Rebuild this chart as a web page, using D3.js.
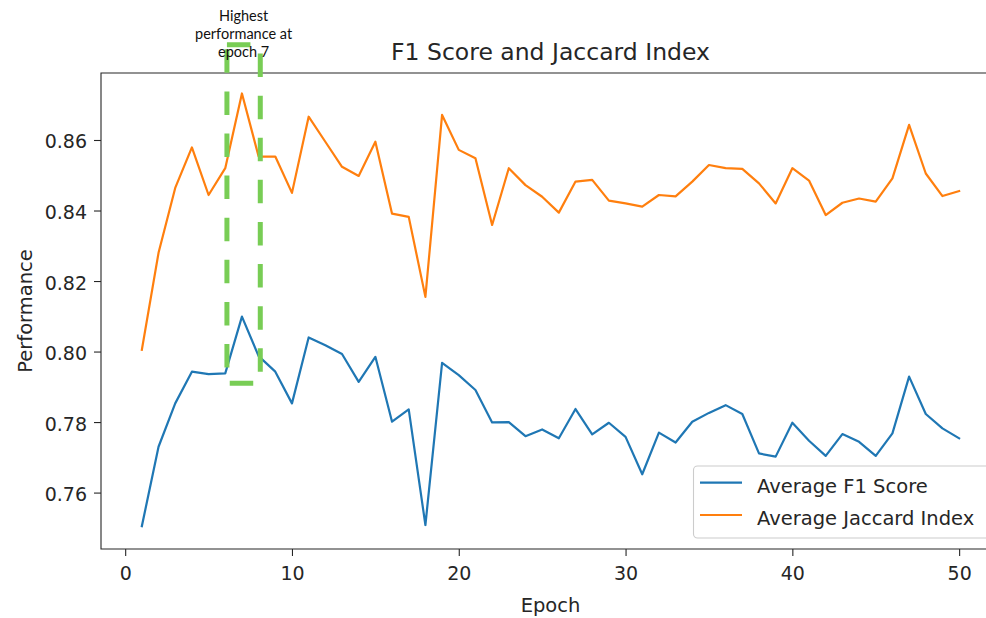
<!DOCTYPE html>
<html>
<head>
<meta charset="utf-8">
<script src="https://cdn.jsdelivr.net/npm/d3@7"></script>
<style>
  html, body { margin: 0; padding: 0; background: #fff; overflow: hidden; }
  svg { display: block; }
</style>
</head>
<body>
<div id="chart"></div>
<script>
// Data
const epochs = d3.range(1, 51);
const f1Scores = [
  0.7505, 0.7730, 0.7853, 0.7943, 0.7936, 0.7938, 0.8099, 0.7987, 0.7943, 0.7853,
  0.8040, 0.8018, 0.7993, 0.7914, 0.7985, 0.7801, 0.7836, 0.7508, 0.7968, 0.7933,
  0.7891, 0.7799, 0.7800, 0.7760, 0.7779, 0.7754, 0.7837, 0.7765, 0.7798, 0.7758,
  0.7652, 0.7770, 0.7742, 0.7801, 0.7826, 0.7848, 0.7823, 0.7711, 0.7702, 0.7798,
  0.7747, 0.7704, 0.7766, 0.7744, 0.7704, 0.7768, 0.7929, 0.7823, 0.7782, 0.7754
];
const jaccardScores = [
  0.8005, 0.8280, 0.8464, 0.8579, 0.8444, 0.8520, 0.8732, 0.8553, 0.8553, 0.8450,
  0.8666, 0.8595, 0.8524, 0.8498, 0.8595, 0.8391, 0.8382, 0.8155, 0.8671, 0.8572,
  0.8548, 0.8359, 0.8520, 0.8472, 0.8439, 0.8394, 0.8482, 0.8487, 0.8428, 0.8420,
  0.8411, 0.8444, 0.8440, 0.8482, 0.8529, 0.8520, 0.8518, 0.8477, 0.8420, 0.8520,
  0.8485, 0.8387, 0.8422, 0.8434, 0.8425, 0.8491, 0.8643, 0.8505, 0.8441, 0.8455
];
const seriesNames = ["Average F1 Score", "Average Jaccard Index"];
const xTicks = [0, 10, 20, 30, 40, 50];
const yTicks = [0.76, 0.78, 0.80, 0.82, 0.84, 0.86];
const annotationLines = ["Highest", "performance at", "epoch 7"];
// Box drawn around the best epoch (epoch range, value range)
const highlightX = [6.1, 8.1];
const highlightY = [0.791, 0.887];

// Constants
const width = 986;
const height = 618;
// Axes box (its right edge sits just past the window, as in the reference)
const margin = {top: 73, left: 101, right: 1000, bottom: 549};
const xDomain = [-1.45, 52.45];
const yDomain = [0.744, 0.879];

const blue = "#1f77b4";
const orange = "#ff7f0e";
const green = "#78cd55";
const ink = "#262626";
const font = "DejaVu Sans, sans-serif";

const x = d3.scaleLinear().domain(xDomain).range([margin.left, margin.right]);
const y = d3.scaleLinear().domain(yDomain).range([margin.bottom, margin.top]);

const svg = d3.select("#chart").append("svg")
    .attr("width", width)
    .attr("height", height)
    .attr("viewBox", [0, 0, width, height])
    .style("font-family", font);

// Lines
const line = d3.line()
    .x((d, i) => x(epochs[i]))
    .y(d => y(d));

svg.append("g")
    .attr("fill", "none")
    .attr("stroke-width", 2.2)
    .attr("stroke-linejoin", "round")
    .attr("stroke-linecap", "square")
    .selectAll("path")
    .data([[f1Scores, blue], [jaccardScores, orange]])
    .join("path")
    .attr("stroke", d => d[1])
    .attr("d", d => line(d[0]));

// Axes
const xAxis = svg.append("g")
    .attr("transform", `translate(0,${margin.bottom})`)
    .call(d3.axisBottom(x).tickValues(xTicks).tickSize(7).tickPadding(6).tickFormat(d3.format("d")));
const yAxis = svg.append("g")
    .attr("transform", `translate(${margin.left},0)`)
    .call(d3.axisLeft(y).tickValues(yTicks).tickSize(7).tickPadding(7).tickFormat(d3.format(".2f")));

[xAxis, yAxis].forEach(axis => {
  axis.select(".domain").remove();
  axis.selectAll(".tick line").attr("stroke", ink).attr("stroke-width", 1.1);
  axis.selectAll(".tick text")
      .attr("fill", ink)
      .style("font-family", font)
      .style("font-size", "19px");
});
yAxis.selectAll(".tick text").attr("dy", "0.42em");
xAxis.selectAll(".tick text").attr("dy", "0.95em");

// Spines: left, top and bottom (the right one falls outside the window)
svg.append("path")
    .attr("d", `M${margin.right},${margin.top}H${margin.left}V${margin.bottom}H${margin.right}`)
    .attr("fill", "none")
    .attr("stroke", ink)
    .attr("stroke-width", 1.1);

// Title and axis labels
svg.append("text")
    .attr("x", (margin.left + margin.right) / 2)
    .attr("y", 60)
    .attr("text-anchor", "middle")
    .attr("fill", ink)
    .style("font-size", "23.5px")
    .text("F1 Score and Jaccard Index");

svg.append("text")
    .attr("x", (margin.left + margin.right) / 2)
    .attr("y", 612)
    .attr("text-anchor", "middle")
    .attr("fill", ink)
    .style("font-size", "19.5px")
    .text("Epoch");

svg.append("text")
    .attr("transform", `translate(31.5,${(margin.top + margin.bottom) / 2}) rotate(-90)`)
    .attr("text-anchor", "middle")
    .attr("fill", ink)
    .style("font-size", "19.5px")
    .text("Performance");

// Legend
const legend = svg.append("g");
legend.append("rect")
    .attr("x", 693.5)
    .attr("y", 466)
    .attr("width", 296)
    .attr("height", 72)
    .attr("rx", 4)
    .attr("fill", "#fff")
    .attr("fill-opacity", 0.8)
    .attr("stroke", "#cccccc")
    .attr("stroke-width", 1.1);

const legendItem = legend.selectAll("g.item")
    .data(seriesNames)
    .join("g")
    .attr("class", "item")
    .attr("transform", (d, i) => `translate(0,${482.7 + i * 32.3})`);
legendItem.append("line")
    .attr("x1", 700)
    .attr("x2", 742)
    .attr("stroke", (d, i) => i === 0 ? blue : orange)
    .attr("stroke-width", 2.2);
legendItem.append("text")
    .attr("x", 757)
    .attr("y", 9.8)
    .attr("fill", ink)
    .style("font-size", "19.5px")
    .text(d => d);

// Highlight box around the best epoch
svg.append("rect")
    .attr("x", x(highlightX[0]))
    .attr("y", y(highlightY[1]))
    .attr("width", x(highlightX[1]) - x(highlightX[0]))
    .attr("height", y(highlightY[0]) - y(highlightY[1]))
    .attr("fill", "none")
    .attr("stroke", green)
    .attr("stroke-width", 5)
    .attr("stroke-dasharray", "23.5,18.6");

// Annotation text
svg.append("text")
    .attr("text-anchor", "middle")
    .attr("fill", "#111")
    .style("font-family", "Lato, sans-serif")
    .style("font-size", "14.5px")
    .selectAll("tspan")
    .data(annotationLines)
    .join("tspan")
    .attr("x", x(7.1))
    .attr("y", (d, i) => 21 + i * 18)
    .text(d => d);
</script>
</body>
</html>
